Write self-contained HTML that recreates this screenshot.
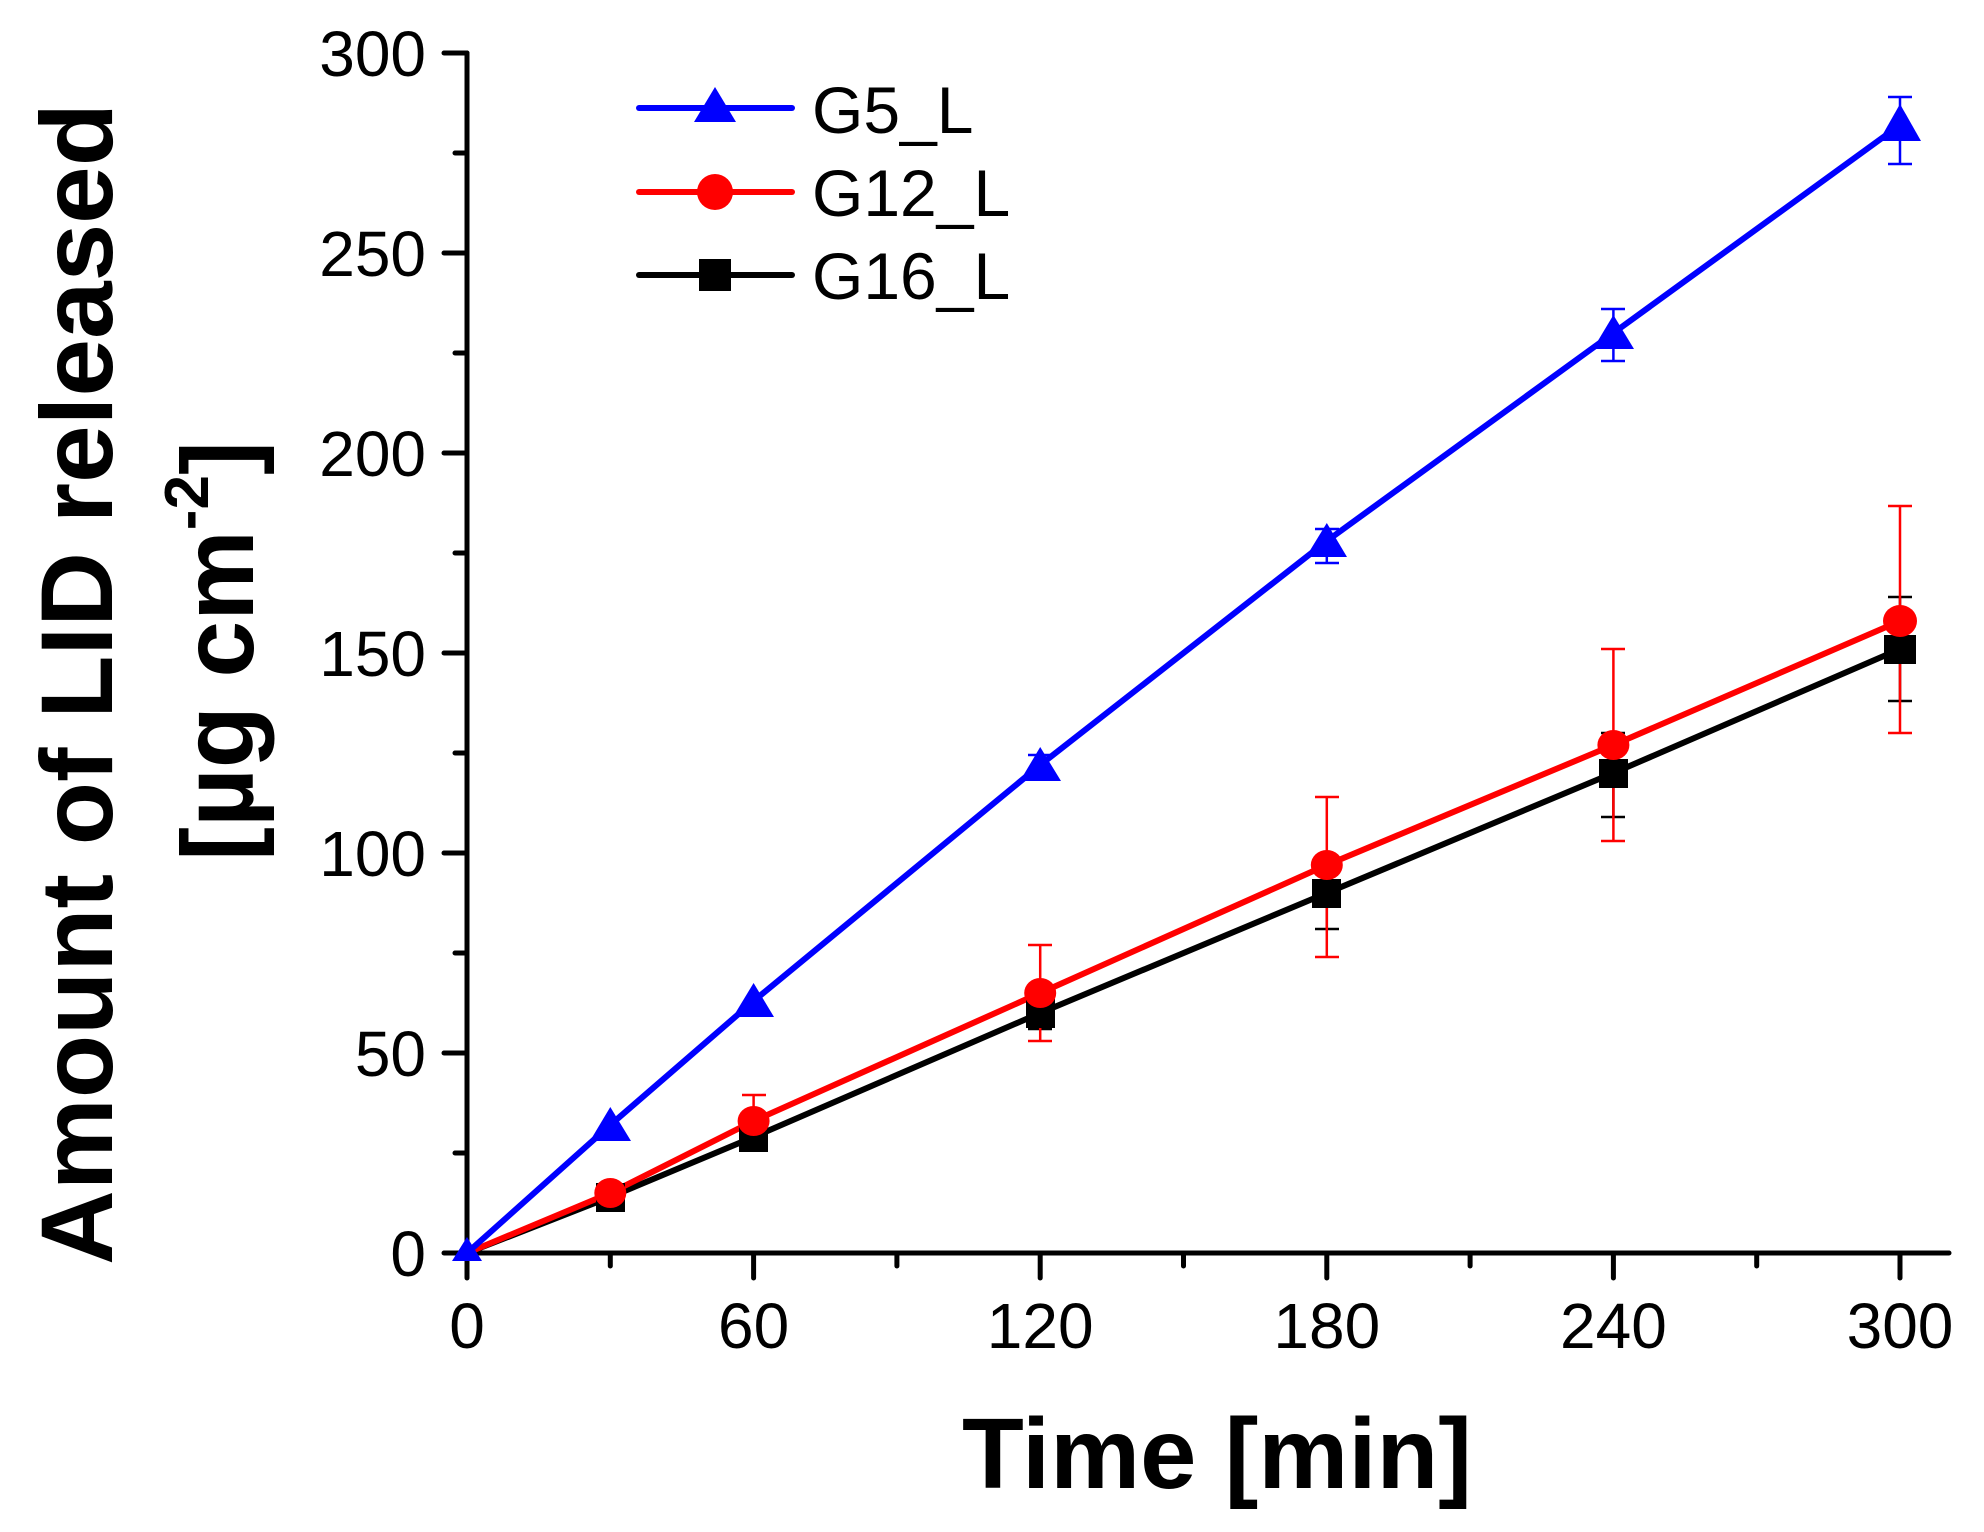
<!DOCTYPE html>
<html><head><meta charset="utf-8"><style>html,body{margin:0;padding:0;background:#fff}svg{display:block}</style></head>
<body>
<svg width="1984" height="1532" viewBox="0 0 1984 1532" xmlns="http://www.w3.org/2000/svg" font-family="Liberation Sans, Arial, sans-serif">
<rect width="1984" height="1532" fill="#fff"/>
<g stroke="#000" stroke-width="5" stroke-linecap="round">
<line x1="467" y1="53" x2="467" y2="1253"/>
<line x1="444" y1="1253" x2="1949" y2="1253"/>
<line x1="444" y1="53" x2="467" y2="53"/>
<line x1="444" y1="253" x2="467" y2="253"/>
<line x1="444" y1="453" x2="467" y2="453"/>
<line x1="444" y1="653" x2="467" y2="653"/>
<line x1="444" y1="853" x2="467" y2="853"/>
<line x1="444" y1="1053" x2="467" y2="1053"/>
<line x1="455" y1="153" x2="467" y2="153"/>
<line x1="455" y1="353" x2="467" y2="353"/>
<line x1="455" y1="553" x2="467" y2="553"/>
<line x1="455" y1="753" x2="467" y2="753"/>
<line x1="455" y1="953" x2="467" y2="953"/>
<line x1="455" y1="1153" x2="467" y2="1153"/>
<line x1="467" y1="1253" x2="467" y2="1278"/>
<line x1="753.6" y1="1253" x2="753.6" y2="1278"/>
<line x1="1040.2" y1="1253" x2="1040.2" y2="1278"/>
<line x1="1326.8" y1="1253" x2="1326.8" y2="1278"/>
<line x1="1613.4" y1="1253" x2="1613.4" y2="1278"/>
<line x1="1900" y1="1253" x2="1900" y2="1278"/>
<line x1="610.3" y1="1253" x2="610.3" y2="1266"/>
<line x1="896.9" y1="1253" x2="896.9" y2="1266"/>
<line x1="1183.5" y1="1253" x2="1183.5" y2="1266"/>
<line x1="1470.1" y1="1253" x2="1470.1" y2="1266"/>
<line x1="1756.7" y1="1253" x2="1756.7" y2="1266"/>
</g>
<g font-size="64" text-anchor="end" fill="#000">
<text x="426" y="76">300</text>
<text x="426" y="276">250</text>
<text x="426" y="476">200</text>
<text x="426" y="676">150</text>
<text x="426" y="876">100</text>
<text x="426" y="1076">50</text>
<text x="426" y="1276">0</text>
</g>
<g font-size="64" text-anchor="middle" fill="#000">
<text x="467" y="1348">0</text>
<text x="753.6" y="1348">60</text>
<text x="1040.2" y="1348">120</text>
<text x="1326.8" y="1348">180</text>
<text x="1613.4" y="1348">240</text>
<text x="1900" y="1348">300</text>
</g>
<text x="962" y="1488" font-size="100" font-weight="bold" textLength="510" lengthAdjust="spacingAndGlyphs">Time [min]</text>
<text transform="translate(112,1265) rotate(-90)" font-size="102" font-weight="bold" textLength="1162" lengthAdjust="spacingAndGlyphs">Amount of LID released</text>
<text transform="translate(253,861) rotate(-90)" font-size="102" font-weight="bold">[µg cm<tspan font-size="62" dy="-45">-2</tspan><tspan dy="45">]</tspan></text>

<g stroke="#000" stroke-width="2.5">
<path d="M1613.4 817 V733 M1601 817 H1625 M1601 733 H1625"/>
<path d="M1900 701 V597 M1888 701 H1912 M1888 597 H1912"/>
<path d="M1326.8 929 V857 M1315 929 H1339 M1315 857 H1339"/>
<path d="M1040.2 1029 V997 M1028 1029 H1052 M1028 997 H1052"/>
</g>
<g stroke="#f00" stroke-width="2.5">
<path d="M753.6 1143 V1095 M742 1143 H766 M742 1095 H766"/>
<path d="M1040.2 1041 V945 M1028 1041 H1052 M1028 945 H1052"/>
<path d="M1326.8 957 V797 M1315 957 H1339 M1315 797 H1339"/>
<path d="M1613.4 841 V649 M1601 841 H1625 M1601 649 H1625"/>
<path d="M1900 733 V506 M1888 733 H1912 M1888 506 H1912"/>
</g>
<g stroke="#00f" stroke-width="2.5">
<path d="M1040.2 775 V755 M1028 775 H1052 M1028 755 H1052"/>
<path d="M1326.8 563 V529 M1315 563 H1339 M1315 529 H1339"/>
<path d="M1613.4 361 V309 M1601 361 H1625 M1601 309 H1625"/>
<path d="M1900 164 V97 M1888 164 H1912 M1888 97 H1912"/>
</g>
<g fill="none" stroke-width="6" stroke-linejoin="round">
<polyline stroke="#000" points="467,1253 610.3,1197 753.6,1137 1040.2,1013 1326.8,893 1613.4,773 1900,649"/>
<polyline stroke="#f00" points="467,1253 610.3,1193 753.6,1121 1040.2,993 1326.8,865 1613.4,745 1900,621"/>
<polyline stroke="#00f" points="467,1253 610.3,1125 753.6,1001 1040.2,765 1326.8,541 1613.4,333 1900,125"/>
</g>
<g fill="#000">
<rect x="596" y="1183" width="29" height="29"/>
<rect x="739" y="1123" width="29" height="29"/>
<rect x="1026" y="999" width="29" height="29"/>
<rect x="1312" y="879" width="29" height="29"/>
<rect x="1599" y="759" width="29" height="29"/>
<rect x="1884" y="635" width="32" height="29"/>
</g>
<g fill="#f00">
<ellipse cx="610.3" cy="1193" rx="16" ry="15"/>
<ellipse cx="753.6" cy="1121" rx="16" ry="15"/>
<ellipse cx="1040.2" cy="993" rx="16" ry="15"/>
<ellipse cx="1326.8" cy="865" rx="16" ry="15"/>
<ellipse cx="1613.4" cy="745" rx="16" ry="15"/>
<ellipse cx="1900" cy="621" rx="17" ry="16"/>
</g>
<g fill="#00f">
<path d="M467 1237 L482 1261 L452 1261 Z"/>
<path d="M610.3 1107 L631 1141 L590 1141 Z"/>
<path d="M753.6 983 L774 1017 L733 1017 Z"/>
<path d="M1040.2 747 L1061 781 L1020 781 Z"/>
<path d="M1326.8 523 L1347 557 L1306 557 Z"/>
<path d="M1613.4 315 L1634 349 L1593 349 Z"/>
<path d="M1900 104 L1921 141 L1879 141 Z"/>
</g>
<g stroke-width="6" stroke-linecap="round">
<line x1="639" y1="108" x2="792" y2="108" stroke="#00f"/>
<line x1="639" y1="192" x2="792" y2="192" stroke="#f00"/>
<line x1="639" y1="275" x2="792" y2="275" stroke="#000"/>
</g>
<path d="M715 87 L736 122 L694 122 Z" fill="#00f"/>
<ellipse cx="715" cy="192" rx="18" ry="18" fill="#f00"/>
<rect x="699" y="259" width="32" height="32" fill="#000"/>
<g font-size="66" fill="#000">
<text x="812" y="133">G5_L</text>
<text x="812" y="216">G12_L</text>
<text x="812" y="299">G16_L</text>
</g>
</svg>
</body></html>
